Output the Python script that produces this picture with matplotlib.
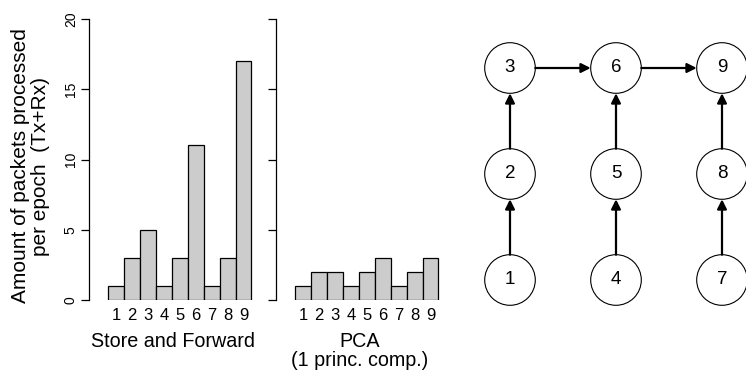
import matplotlib
matplotlib.use("Agg")
import matplotlib.pyplot as plt
from matplotlib.patches import Circle

plt.rcParams['font.family'] = ['Liberation Sans', 'DejaVu Sans']

# data
nodes = [1, 2, 3, 4, 5, 6, 7, 8, 9]
store_forward = [1, 3, 5, 1, 3, 11, 1, 3, 17]
pca = [1, 2, 2, 1, 2, 3, 1, 2, 3]
edges = [(1, 2), (2, 3), (4, 5), (5, 6), (7, 8), (8, 9), (3, 6), (6, 9)]
yticks = [0, 5, 10, 15, 20]

W, H = 746, 381
fig = plt.figure(figsize=(W / 100, H / 100), dpi=100)


def px_axes(x0, y0, x1, y1):
    # pixel box (top-left origin) -> figure axes
    return fig.add_axes([x0 / W, 1 - y1 / H, (x1 - x0) / W, (y1 - y0) / H])


def bar_panel(ax, values, show_labels):
    ax.bar(nodes, values, width=1.0, color='#cccccc', edgecolor='black', linewidth=0.9)
    ax.set_xlim(-0.7, 9.85)
    ax.set_ylim(0, 20)
    for s in ['top', 'right', 'bottom']:
        ax.spines[s].set_visible(False)
    ax.spines['left'].set_linewidth(0.9)
    ax.set_yticks(yticks)
    ax.tick_params(axis='y', length=5.5, width=0.9, pad=2.5, labelsize=10)
    if show_labels:
        ax.set_yticklabels([str(t) for t in yticks], rotation=90, va='center')
    else:
        ax.set_yticklabels([])
    ax.set_xticks(nodes)
    ax.set_xticklabels([str(n) for n in nodes])
    ax.tick_params(axis='x', length=0, pad=5.5, labelsize=12)


ax1 = px_axes(89, 19, 257, 300)
bar_panel(ax1, store_forward, True)
ax1.set_xlabel('Store and Forward', fontsize=14.2, labelpad=7)

ax2 = px_axes(276, 19, 444, 300)
bar_panel(ax2, pca, False)
ax2.set_xlabel('PCA\n(1 princ. comp.)', fontsize=14.2, labelpad=7, linespacing=1.0)

fig.text(30.5 / W, 1 - 166 / H, 'Amount of packets processed\nper epoch  (Tx+Rx)',
         rotation=90, ha='center', va='center', fontsize=15, linespacing=1.1)

# graph of nodes on a 3x3 grid
axg = px_axes(450, 0, 746, 381)
unit = 106.0
axg.set_xlim(-60 / unit, 236 / unit)
axg.set_ylim(-101 / unit, 280 / unit)
axg.set_aspect('equal')
axg.axis('off')
r = 25.3 / unit


def pos(n):
    return ((n - 1) // 3, (n - 1) % 3)


for n in nodes:
    x, y = pos(n)
    axg.add_patch(Circle((x, y), r, facecolor='white', edgecolor='black', linewidth=0.8))
    axg.text(x, y, str(n), ha='center', va='center', fontsize=13.5)

for a, b in edges:
    xa, ya = pos(a)
    xb, yb = pos(b)
    dx, dy = xb - xa, yb - ya
    d = (dx ** 2 + dy ** 2) ** 0.5
    ux, uy = dx / d, dy / d
    axg.annotate('', xy=(xb - ux * r, yb - uy * r), xytext=(xa + ux * r, ya + uy * r),
                 arrowprops=dict(arrowstyle='-|>', color='black', lw=1.6,
                                 mutation_scale=14, shrinkA=0, shrinkB=0))

fig.savefig('out.png', dpi=100)
